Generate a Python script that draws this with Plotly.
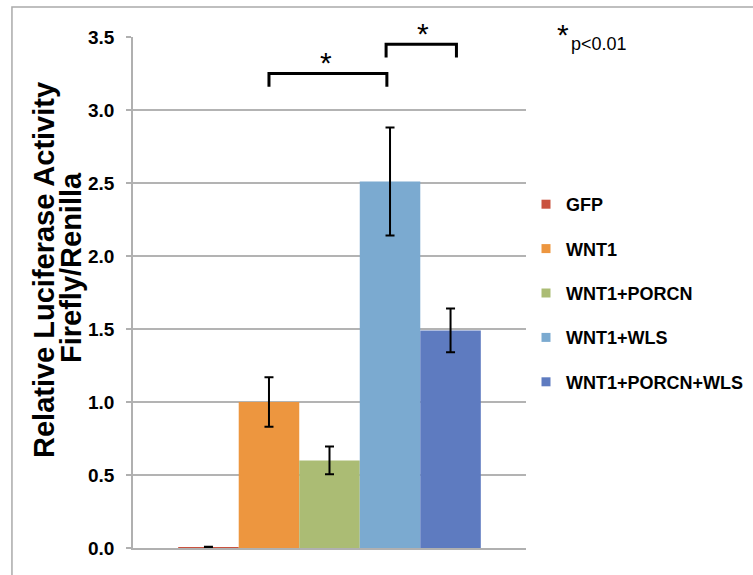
import plotly.graph_objects as go

groups = ["GFP", "WNT1", "WNT1+PORCN", "WNT1+WLS", "WNT1+PORCN+WLS"]
values = [0.005, 1.0, 0.6, 2.51, 1.49]
errors = [0.004, 0.17, 0.095, 0.37, 0.15]
colors = ["#C9523F", "#ED963F", "#ABBC74", "#7BAAD0", "#5E7BC0"]
y_ticks = [0.0, 0.5, 1.0, 1.5, 2.0, 2.5, 3.0, 3.5]
tick_text = ["0.0", "0.5", "1.0", "1.5", "2.0", "2.5", "3.0", "3.5"]
comparisons = [(1, 3, 3.16, 3.25), (3, 4, 3.36, 3.45)]

REG = "Liberation Sans, Arial"
BARGAP = 0.23

fig = go.Figure()
for g, v, e, c in zip(groups, values, errors, colors):
    fig.add_trace(go.Bar(
        x=[""], y=[v], name=g, marker=dict(color=c, line=dict(width=0)),
        error_y=dict(type="data", array=[e], color="black", thickness=2, width=4.5),
        showlegend=False, legendgroup=g,
    ))
for g, c in zip(groups, colors):
    fig.add_trace(go.Scatter(
        x=[None], y=[None], mode="markers", name=g, legendgroup=g,
        marker=dict(symbol="square", size=9, color=c),
    ))

n = len(groups)
bw = (1 - BARGAP) / n
def center(i):
    return BARGAP / 2 + (i + 0.5) * bw

shapes = []
for (a, b, ylo, yhi) in comparisons:
    x0, x1 = center(a), center(b)
    if b == 3:
        x1 -= 0.008
    if a == 3:
        x0 -= 0.010
        x1 += 0.015
    shapes.append(dict(type="path", xref="paper", yref="y",
                       path=f"M {x0},{ylo} L {x0},{yhi} L {x1},{yhi} L {x1},{ylo}",
                       line=dict(color="black", width=3)))
# outer frame
shapes.append(dict(type="rect", xref="paper", yref="paper",
                   x0=-0.308, x1=2.0, y0=-0.3, y1=1.0587,
                   line=dict(color="#aaaaaa", width=1.5)))

def px_x(p):
    return (p - 133) / 393

def px_y(p):
    return (548 - p) / 511

annotations = [
    dict(text="<b>Relative Luciferase Activity</b>", xref="paper", yref="paper",
         x=px_x(44), y=px_y(270), xanchor="center", yanchor="middle", textangle=-90,
         showarrow=False, font=dict(family=REG, size=29, color="black")),
    dict(text="<b>Firefly/Renilla</b>", xref="paper", yref="paper",
         x=px_x(71), y=px_y(268), xanchor="center", yanchor="middle", textangle=-90,
         showarrow=False, font=dict(family=REG, size=29, color="black")),
    dict(text="*", xref="paper", yref="paper", x=px_x(326), y=px_y(62),
         xanchor="center", yanchor="middle",
         showarrow=False, font=dict(family=REG, size=30, color="black")),
    dict(text="*", xref="paper", yref="paper", x=px_x(423), y=px_y(33),
         xanchor="center", yanchor="middle",
         showarrow=False, font=dict(family=REG, size=30, color="black")),
    dict(text="*", xref="paper", yref="paper", x=px_x(563), y=px_y(35),
         xanchor="center", yanchor="middle",
         showarrow=False, font=dict(family=REG, size=30, color="black")),
    dict(text="p<0.01", xref="paper", yref="paper", x=px_x(569), xanchor="left",
         y=px_y(44), yanchor="middle",
         showarrow=False, font=dict(family=REG, size=18, color="black")),
]

fig.update_layout(
    width=753, height=575,
    margin=dict(l=133, r=227, t=37, b=27, autoexpand=False),
    paper_bgcolor="white", plot_bgcolor="white",
    barmode="group", bargap=BARGAP, bargroupgap=0,
    shapes=shapes, annotations=annotations,
    showlegend=True,
    legend=dict(xref="container", yref="container",
                x=526 / 753, xanchor="left", y=1 - 186 / 575, yanchor="top",
                traceorder="grouped", tracegroupgap=18,
                font=dict(family=REG, size=18, color="black", weight="bold"),
                bgcolor="rgba(0,0,0,0)", itemclick=False),
    font=dict(family=REG, color="black"),
)
fig.update_xaxes(showticklabels=False, showgrid=False, zeroline=False,
                 showline=True, linecolor="#b0b0b0", linewidth=2, ticks="")
fig.update_yaxes(range=[0, 3.5], tickvals=y_ticks, ticktext=[f"<b>{t}</b>" for t in tick_text],
                 showgrid=True, gridcolor="#b3b3b3", gridwidth=1.5,
                 zeroline=False, showline=True, linecolor="#b0b0b0", linewidth=1.5,
                 ticks="outside", ticklen=5, tickcolor="#b0b0b0", tickwidth=1.5,
                 ticklabelstandoff=8,
                 tickfont=dict(family=REG, size=19, color="black"))

fig.write_html("out.html", config={"displayModeBar": False},
               post_script="document.body.style.margin='0px';document.body.style.overflow='hidden';")
